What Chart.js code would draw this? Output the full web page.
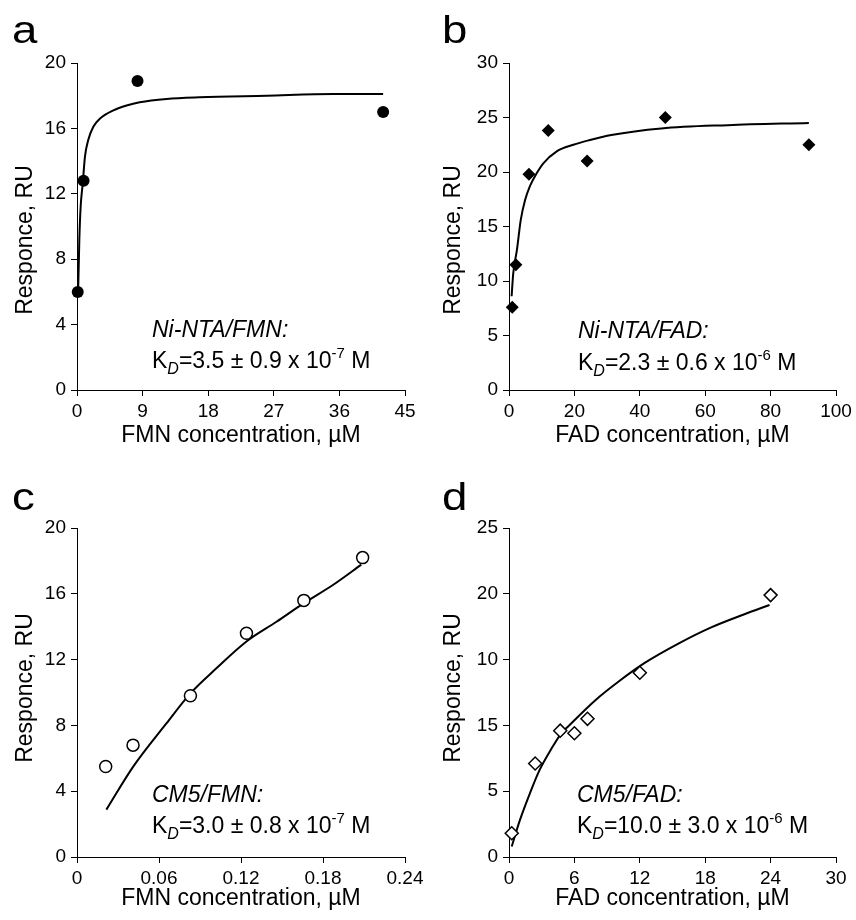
<!DOCTYPE html>
<html>
<head>
<meta charset="utf-8">
<script src="https://cdn.jsdelivr.net/npm/chart.js@4.4.0/dist/chart.umd.min.js"></script>
<style>
  body { margin: 0; background: #fff; }
  #wrap { position: relative; width: 856px; height: 920px; }
  canvas { position: absolute; }
</style>
</head>
<body>
<div id="wrap">
  <canvas id="chartA" width="428" height="460" style="left:0;top:0"></canvas>
  <canvas id="chartB" width="428" height="460" style="left:428px;top:0"></canvas>
  <canvas id="chartC" width="428" height="460" style="left:0;top:460px"></canvas>
  <canvas id="chartD" width="428" height="460" style="left:428px;top:460px"></canvas>
</div>
<script>
// panel a: Ni-NTA / FMN
const niFmnConc = [0.1, 0.9, 8.3, 42.0];
const niFmnResp = [6.0, 12.8, 18.9, 17.0];
const niFmnFitConc = [0.1, 0.18, 0.32, 0.5, 0.78, 1.1, 1.55, 2.24, 3.16, 5.0, 6.8, 8.6, 12.3, 16.8, 26, 35.2, 42];
const niFmnFitResp = [5.7, 6.5, 9.2, 11.2, 12.6, 14.3, 15.3, 16.1, 16.6, 17.1, 17.4, 17.6, 17.8, 17.9, 18.0, 18.1, 18.1];
const xTicksA = [0, 9, 18, 27, 36, 45];
const yTicksA = [0, 4, 8, 12, 16, 20];

// panel b: Ni-NTA / FAD
const niFadConc = [1.0, 2.1, 6.1, 12.0, 23.9, 47.8, 91.7];
const niFadResp = [7.6, 11.5, 19.8, 23.8, 21.0, 25.0, 22.5];
const niFadFitConc = [0.8, 1.3, 2.4, 3.6, 4.9, 6.4, 8.5, 10.5, 14.6, 19.7, 24.3, 31.3, 46.6, 66.9, 91.7];
const niFadFitResp = [8.6, 10.7, 12.8, 15.6, 17.4, 18.7, 19.9, 20.8, 21.9, 22.5, 22.9, 23.4, 24.0, 24.3, 24.5];
const xTicksB = [0, 20, 40, 60, 80, 100];
const yTicksB = [0, 5, 10, 15, 20, 25, 30];

// panel c: CM5 / FMN
const cmFmnConc = [0.021, 0.041, 0.083, 0.124, 0.166, 0.209];
const cmFmnResp = [5.5, 6.8, 9.8, 13.6, 15.6, 18.2];
const cmFmnFitConc = [0.0215, 0.041, 0.0654, 0.083, 0.102, 0.124, 0.146, 0.166, 0.1875, 0.208];
const cmFmnFitResp = [2.88, 5.48, 8.12, 9.95, 11.47, 13.1, 14.3, 15.43, 16.55, 17.77];
const xTicksC = [0, 0.06, 0.12, 0.18, 0.24];
const xTickLabelsC = ["0", "0.06", "0.12", "0.18", "0.24"];
const yTicksC = [0, 4, 8, 12, 16, 20];

// panel d: CM5 / FAD
const cmFadConc = [0.25, 2.4, 4.7, 6.0, 7.2, 12.0, 24.0];
const cmFadResp = [1.8, 7.1, 9.6, 9.4, 10.5, 14.0, 19.9];
const cmFadFitConc = [0.25, 1.0, 1.9, 2.8, 3.8, 4.8, 5.4, 7.9, 10.0, 12.45, 15.5, 18.55, 21.6, 23.9];
const cmFadFitResp = [0.8, 2.8, 4.8, 6.6, 8.1, 9.4, 9.9, 11.9, 13.3, 14.75, 16.2, 17.45, 18.45, 19.15];
const xTicksD = [0, 6, 12, 18, 24, 30];
const yTicksD = [0, 5, 10, 15, 20, 25];
const yTickLabelsD = ["0", "5", "15", "10", "20", "25"]; // as printed in the figure

const FONT = '"Liberation Sans", Arial, Helvetica, sans-serif';

function pairs(xs, ys) {
  return xs.map((x, i) => ({ x: x, y: ys[i] }));
}

// panel letter, y title and K_D note
const panelText = {
  id: 'panelText',
  afterDraw(chart, args, o) {
    const ctx = chart.ctx;
    const area = chart.chartArea;
    ctx.save();
    ctx.fillStyle = '#000';
    ctx.textBaseline = 'alphabetic';
    ctx.textAlign = 'left';
    ctx.translate(o.letterX, o.letterY);
    ctx.scale(1.2, 1);
    ctx.font = '38px ' + FONT;
    ctx.fillText(o.letter, 0, 0);
    ctx.restore();

    // y axis title
    ctx.save();
    ctx.fillStyle = '#000';
    ctx.translate(26, o.yTitleY);
    ctx.rotate(-Math.PI / 2);
    ctx.textAlign = 'center';
    ctx.textBaseline = 'middle';
    ctx.font = '23px ' + FONT;
    ctx.fillText('Responce, RU', 0, 0);
    ctx.restore();

    ctx.save();
    ctx.fillStyle = '#000';
    ctx.textBaseline = 'alphabetic';
    ctx.textAlign = 'left';
    let x = area.left + o.dx;
    const y1 = area.bottom - o.line1;
    const y2 = area.bottom - o.line2;
    ctx.font = 'italic 23px ' + FONT;
    ctx.fillText(o.title, x, y1);
    const parts = [
      ['K', '23px', 0],
      ['D', 'italic 16px', 6],
      ['=' + o.kd + ' x 10', '23px', 0],
      [o.exp, '15px', -10],
      [' M', '23px', 0]
    ];
    parts.forEach(p => {
      ctx.font = p[1] + ' ' + FONT;
      ctx.fillText(p[0], x, y2 + p[2]);
      x += ctx.measureText(p[0]).width;
    });
    ctx.restore();
  }
};

function axis(vals, labels, title, fitSize, isX, titlePad) {
  const s = {
    type: 'linear',
    min: vals[0],
    max: vals[vals.length - 1],
    afterBuildTicks: sc => { sc.ticks = vals.map(v => ({ value: v })); },
    ticks: {
      callback: (v, i) => labels ? labels[i] : String(vals[i]),
      font: { family: FONT, size: 19 },
      color: '#000',
      padding: isX ? 4 : 5,
      maxRotation: 0,
      autoSkip: false
    },
    grid: { drawOnChartArea: false, drawTicks: true, tickLength: 6, color: '#000', lineWidth: 1 },
    border: { display: true, color: '#000', width: 1 },
    title: {
      display: isX,
      text: title,
      color: '#000',
      font: { family: FONT, size: 23 },
      padding: { top: 0, bottom: titlePad || 0 }
    }
  };
  if (isX) s.afterFit = sc => { sc.height = fitSize; };
  else s.afterFit = sc => { sc.width = fitSize; };
  return s;
}

function makePanel(id, p) {
  return new Chart(document.getElementById(id), {
    type: 'scatter',
    data: {
      datasets: [
        {
          data: pairs(p.xs, p.ys),
          pointStyle: p.marker,
          pointRadius: p.radius,
          pointBackgroundColor: p.filled ? '#000' : '#fff',
          pointBorderColor: '#000',
          pointBorderWidth: p.filled ? 0 : 1.5,
          showLine: false,
          clip: false,
          order: 1
        },
        {
          data: pairs(p.fitX, p.fitY),
          showLine: true,
          borderColor: '#000',
          borderWidth: 2,
          pointRadius: 0,
          cubicInterpolationMode: 'monotone',
          clip: false,
          order: 2
        }
      ]
    },
    options: {
      responsive: false,
      devicePixelRatio: 1,
      animation: false,
      events: [],
      layout: { padding: { left: 0, top: p.area.top, right: 428 - p.area.right, bottom: 0 } },
      plugins: {
        legend: { display: false },
        tooltip: { enabled: false },
        panelText: p.note
      },
      scales: {
        x: axis(p.xTicks, p.xLabels, p.xTitle, 460 - p.area.bottom, true, p.xTitlePad),
        y: axis(p.yTicks, p.yLabels, '', p.area.left, false)
      }
    },
    plugins: [panelText]
  });
}

makePanel('chartA', {
  xs: niFmnConc, ys: niFmnResp, fitX: niFmnFitConc, fitY: niFmnFitResp,
  marker: 'circle', radius: 6, filled: true,
  xTicks: xTicksA, yTicks: yTicksA,
  xTitle: 'FMN concentration, \u00b5M', xTitlePad: 11,
  area: { left: 77, right: 405, top: 63, bottom: 390 },
  note: { letter: 'a', letterX: 12, letterY: 43, yTitleY: 240, title: 'Ni-NTA/FMN:', kd: '3.5 \u00b1 0.9', exp: '-7', dx: 75, line1: 53, line2: 22 }
});

makePanel('chartB', {
  xs: niFadConc, ys: niFadResp, fitX: niFadFitConc, fitY: niFadFitResp,
  marker: 'rectRot', radius: 6.5, filled: true,
  xTicks: xTicksB, yTicks: yTicksB,
  xTitle: 'FAD concentration, \u00b5M', xTitlePad: 11,
  area: { left: 81, right: 408, top: 63, bottom: 390 },
  note: { letter: 'b', letterX: 14, letterY: 43, yTitleY: 240, title: 'Ni-NTA/FAD:', kd: '2.3 \u00b1 0.6', exp: '-6', dx: 69, line1: 52, line2: 20 }
});

makePanel('chartC', {
  xs: cmFmnConc, ys: cmFmnResp, fitX: cmFmnFitConc, fitY: cmFmnFitResp,
  marker: 'circle', radius: 6, filled: false,
  xTicks: xTicksC, xLabels: xTickLabelsC, yTicks: yTicksC,
  xTitle: 'FMN concentration, \u00b5M', xTitlePad: 8,
  area: { left: 77, right: 405, top: 68, bottom: 397 },
  note: { letter: 'c', letterX: 12, letterY: 50, yTitleY: 228, title: 'CM5/FMN:', kd: '3.0 \u00b1 0.8', exp: '-7', dx: 75, line1: 55, line2: 24 }
});

makePanel('chartD', {
  xs: cmFadConc, ys: cmFadResp, fitX: cmFadFitConc, fitY: cmFadFitResp,
  marker: 'rectRot', radius: 6.5, filled: false,
  xTicks: xTicksD, yTicks: yTicksD, yLabels: yTickLabelsD,
  xTitle: 'FAD concentration, \u00b5M', xTitlePad: 8,
  area: { left: 81, right: 408, top: 68, bottom: 397 },
  note: { letter: 'd', letterX: 14, letterY: 50, yTitleY: 228, title: 'CM5/FAD:', kd: '10.0 \u00b1 3.0', exp: '-6', dx: 68, line1: 55, line2: 24 }
});
</script>
</body>
</html>
